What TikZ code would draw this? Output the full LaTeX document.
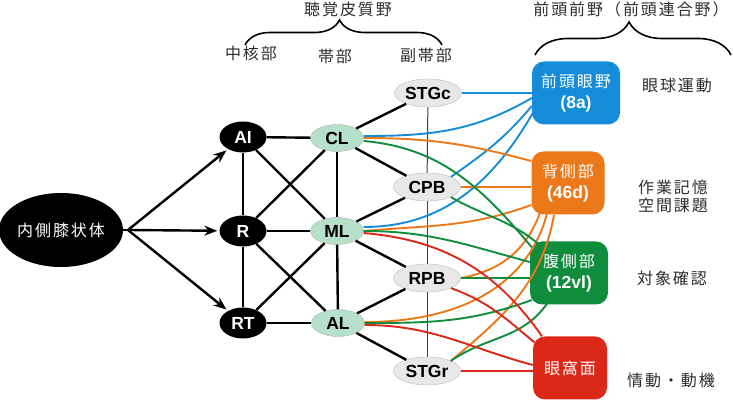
\documentclass[tikz,border=0pt]{standalone}
\usepackage{fontspec}
\setmainfont{Liberation Sans}
\newfontfamily\jp[LetterSpace=12]{Noto Sans CJK JP}
\usetikzlibrary{shapes,arrows.meta,decorations.pathreplacing}

\definecolor{fefblue}{RGB}{20,140,215}
\definecolor{dlorange}{RGB}{235,120,25}
\definecolor{vlgreen}{RGB}{15,140,60}
\definecolor{ofcred}{RGB}{220,40,25}
\definecolor{beltgreen}{RGB}{182,224,202}
\definecolor{parbgray}{RGB}{232,232,232}
\definecolor{inkgray}{RGB}{45,45,45}

\newcommand\areanum[1]{{\normalfont\bfseries\fontsize{17.5}{21}\selectfont #1}}

\tikzset{
  mgn/.style={ellipse, fill=black, text=white, minimum width=122pt, minimum height=74pt, inner sep=0pt, font=\jp\fontsize{16}{16}\selectfont},
  core/.style={ellipse, fill=black, text=white, minimum width=47pt, minimum height=31pt, inner sep=0pt, font=\bfseries\fontsize{17.5}{17.5}\selectfont},
  belt/.style={ellipse, draw=gray!60, fill=beltgreen, minimum width=53pt, minimum height=27pt, inner sep=0pt, font=\bfseries\fontsize{17.5}{17.5}\selectfont},
  parabelt/.style={ellipse, draw=gray!55, fill=parbgray, minimum width=67pt, minimum height=28pt, inner sep=0pt, font=\bfseries\fontsize{17.5}{17.5}\selectfont},
  pfc/.style={rectangle, rounded corners=12pt, text=white, minimum height=63pt, inner sep=0pt, align=center, font=\jp\fontsize{16}{21}\selectfont},
  heading/.style={text=inkgray, inner sep=0pt, font=\jp\fontsize{16}{16}\selectfont},
  role/.style={text=inkgray, inner sep=0pt, align=center, font=\jp\fontsize{16}{18}\selectfont},
  link/.style={line width=2.4pt},
  feed/.style={line width=2.4pt, -{Stealth[length=13pt,width=10pt]}, shorten >=2pt},
  stgline/.style={line width=1pt, black!75},
  groupbrace/.style={decorate, decoration={brace, amplitude=#1, aspect=0.48}, line width=1.6pt},
  tofef/.style={line width=1.9pt, fefblue},
  todl/.style={line width=1.9pt, dlorange},
  tovl/.style={line width=1.9pt, vlgreen},
  toofc/.style={line width=1.9pt, ofcred}
}

\begin{document}
\begin{tikzpicture}[x=1pt,y=1pt]
\useasboundingbox (0,0) rectangle (733,401);

\node[mgn] (mgn) at (61,171) {内側膝状体};

\node[core] (AI) at (243,264) {AI};
\node[core] (R) at (243,170) {R};
\node[core] (RT) at (243,78) {RT};

\node[belt] (CL) at (337,263) {CL};
\node[belt] (ML) at (337,170) {ML};
\node[belt] (AL) at (338,78) {AL};

\node[parabelt] (STGc) at (428,308) {STGc};
\node[parabelt] (CPB) at (427,214) {CPB};
\node[parabelt] (RPB) at (427,123) {RPB};
\node[parabelt] (STGr) at (427,30) {STGr};

\node[pfc, fill=fefblue, minimum width=88pt] (fef) at (576,308) {前頭眼野\\\areanum{(8a)}};
\node[pfc, fill=dlorange, minimum width=73pt] (dl) at (568,218) {背側部\\\areanum{(46d)}};
\node[pfc, fill=vlgreen, minimum width=78pt] (vl) at (569,128) {腹側部\\\areanum{(12vl)}};
\node[pfc, fill=ofcred, minimum width=74pt] (ofc) at (570,33) {眼窩面};

\node[heading] (audtitle) at (348,392) {聴覚皮質野};
\node[heading] (coretitle) at (251,348) {中核部};
\node[heading] (belttitle) at (335,345) {帯部};
\node[heading] (parbtitle) at (426,346) {副帯部};
\node[heading] (pfctitle) at (631,392) {前頭前野（前頭連合野）};

\node[role] (fefrole) at (677,316) {眼球運動};
\node[role] (dlrole) at (673,205) {作業記憶\\空間課題};
\node[role] (vlrole) at (672,123) {対象確認};
\node[role] (ofcrole) at (671,21) {情動・動機};

\coordinate (audleft) at (245,356);
\coordinate (audright) at (442,356);
\coordinate (pfcleft) at (535,346);
\coordinate (pfcright) at (731,346);
\draw[groupbrace=25pt] (audleft) -- (audright);
\draw[groupbrace=33pt] (pfcleft) -- (pfcright);

\coordinate (fork) at (128,171);
\draw[link] (mgn.east) -- (fork);
\draw[feed] (fork) -- (AI);
\draw[feed] (fork) -- (R);
\draw[feed] (fork) -- (RT);

\draw[link] (AI) -- (CL);
\draw[link] (R) -- (ML);
\draw[link] (RT) -- (AL);
\draw[link] (AI) -- (R);
\draw[link] (R) -- (RT);
\draw[link] (AI) -- (ML);
\draw[link] (R) -- (CL);
\draw[link] (R) -- (AL);
\draw[link] (RT) -- (ML);
\draw[link] (CL) -- (ML);
\draw[link] (ML) -- (AL);
\draw[link] (CL) -- (STGc);
\draw[link] (CL) -- (CPB);
\draw[link] (ML) -- (CPB);
\draw[link] (ML) -- (RPB);
\draw[link] (AL) -- (RPB);
\draw[link] (AL) -- (STGr);

\draw[stgline] (STGc) -- (CPB);
\draw[stgline] (CPB) -- (RPB);
\draw[stgline] (RPB) -- (STGr);

\draw[tofef] (STGc) -- (fef);
\draw[tofef] ([yshift=2pt]CL.east) to[out=0,in=210] ([yshift=-5pt]fef.west);
\draw[tofef] (CPB.north east) to[out=35,in=230] ([yshift=-13pt]fef.west);
\draw[tofef] ([yshift=4pt]ML.east) to[out=0,in=240] ([xshift=1pt,yshift=-20pt]fef.west);

\draw[todl] (CL.east) to[out=0,in=165] ([yshift=22pt]dl.west);
\draw[todl] (CPB.east) -- (CPB.east -| dl.west);
\draw[todl] (ML.east) to[out=5,in=200] ([yshift=-22pt]dl.west);
\draw[todl] (RPB.east) to[out=10,in=250] ([xshift=-28pt,yshift=2pt]dl.south);
\draw[todl] ([yshift=1pt]AL.east) to[out=0,in=255] ([xshift=-21pt,yshift=1pt]dl.south);
\draw[todl] (STGr.north east) to[out=40,in=260] ([xshift=-14pt]dl.south);

\draw[tovl] ([yshift=-3pt]CL.east) to[out=-5,in=130] ([xshift=2pt,yshift=-6pt]vl.north west);
\draw[tovl] (CPB.south east) to[out=-30,in=140] ([xshift=9pt,yshift=-3pt]vl.north west);
\draw[tovl] (ML.east) to[out=0,in=165] ([yshift=11pt]vl.west);
\draw[tovl] (RPB.east) -- (RPB.east -| vl.west);
\draw[tovl] (AL.east) to[out=0,in=200] ([xshift=2pt,yshift=-27pt]vl.west);
\draw[tovl] (STGr.north east) to[out=35,in=235] ([xshift=-22pt,yshift=1pt]vl.south);

\draw[toofc] ([yshift=-2pt]ML.east) to[out=-5,in=125] ([xshift=-28pt]ofc.north);
\draw[toofc] (RPB.south east) to[out=-20,in=140] ([xshift=1.5pt,yshift=-6pt]ofc.north west);
\draw[toofc] ([yshift=-2pt]AL.east) to[out=0,in=165] ([yshift=3pt]ofc.west);
\draw[toofc] (STGr.east) -- (STGr.east -| ofc.west);

\end{tikzpicture}
\end{document}
